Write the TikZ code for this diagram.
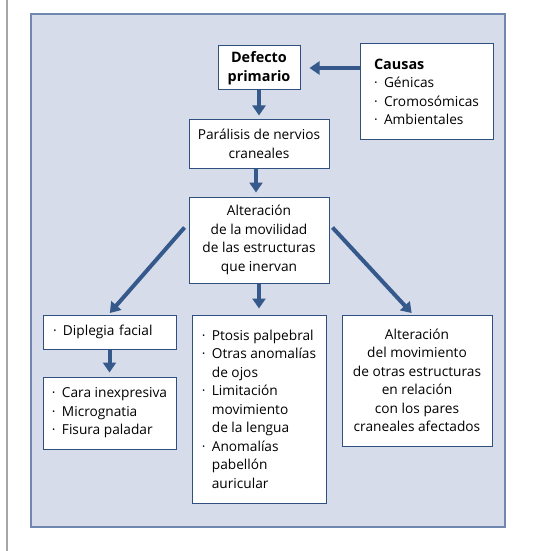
\documentclass[tikz,border=0pt]{standalone}
\usepackage{fontspec}
\setmainfont{Open Sans}
\usetikzlibrary{arrows.meta,calc}
\definecolor{bgfill}{HTML}{D6DCEA}
\definecolor{framec}{HTML}{7088B0}
\definecolor{dblue}{HTML}{2F5080}
\definecolor{arrc}{HTML}{36598C}
\newcommand\bul{\makebox[10pt][l]{·}}
\newcommand\ind{\hspace*{10pt}}
\newcommand\bld[1]{{\fontsize{14.4}{18.5}\selectfont\bfseries #1}}
\begin{document}
\begin{tikzpicture}[x=1pt,y=-1pt,
 box/.style={draw=dblue, line width=1pt, fill=white, inner sep=0pt, text=black,
   font=\fontsize{13.7}{18.5}\selectfont},
 arrw/.style={draw=arrc, line width=4pt, -{Triangle[length=10pt,width=13pt]}}]
\useasboundingbox (0,0) rectangle (555,551);
\draw[gray!70, line width=2pt] (7,0) -- (7,551);
\draw[framec, fill=bgfill, line width=1.5pt] (31,14) rectangle (505,527);

\node[box, minimum width=82pt, minimum height=44pt, align=center] (def) at (259,68)
  {\bld{Defecto}\\\bld{primario}};
\node[box, minimum width=133pt, minimum height=96pt, align=left] (cau) at (426.5,92)
  {\bld{Causas}\\\bul Génicas\\\bul Cromosómicas\\\bul Ambientales};
\node[box, minimum width=140pt, minimum height=48pt, align=center] (par) at (259,144)
  {Parálisis de nervios\\craneales};
\node[box, minimum width=140pt, minimum height=86pt, align=center] (alt) at (259,240)
  {Alteración\\de la movilidad\\de las estructuras\\que inervan};
\node[box, minimum width=133pt, minimum height=34pt, text width=113pt, align=left] (dip) at (109.5,332)
  {\bul Diplegia facial};
\node[box, minimum width=133pt, minimum height=72pt, align=left] (car) at (109.5,413)
  {\bul Cara inexpresiva\\\bul Micrognatia\\\bul Fisura paladar};
\node[box, minimum width=134pt, minimum height=188pt, align=left] (pto) at (259,409)
  {\bul Ptosis palpebral\\\bul Otras anomalías\\\ind de ojos\\\bul Limitación\\\ind movimiento\\\ind de la lengua\\\bul Anomalías\\\ind pabellón\\\ind auricular};
\node[box, minimum width=150pt, minimum height=131pt, align=center] (mov) at (417,380.5)
  {Alteración\\del movimiento\\de otras estructuras\\en relación\\con los pares\\craneales afectados};

\draw[arrw, shorten >=9pt] (cau.west |- def.east) -- (def.east);
\draw[arrw, shorten >=4pt] (def.south) -- (par.north);
\draw[arrw, shorten >=4pt] ($(par.south)+(-3,0)$) -- ($(alt.north)+(-3,0)$);
\draw[arrw, shorten >=6pt] (alt.south) -- (pto.north);
\draw[arrw, shorten >=2pt] ($(alt.north west)+(-4,31)$) -- ($(dip.north)+(-1,0)$);
\draw[arrw, shorten >=2pt] ($(alt.north east)+(3,31)$) -- ($(mov.north)+(-4,0)$);
\draw[arrw, shorten >=4pt] (dip.south) -- (car.north);
\end{tikzpicture}
\end{document}
